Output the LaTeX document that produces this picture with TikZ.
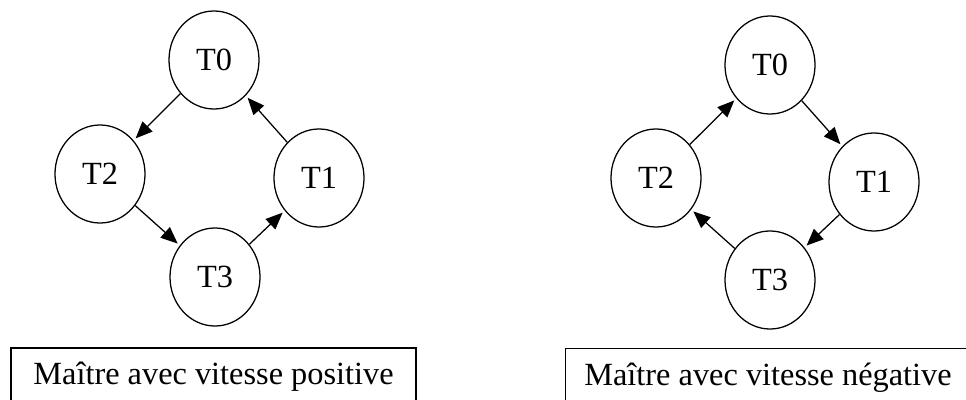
\documentclass[tikz,border=0pt]{standalone}
\usepackage{fontspec}
\setmainfont{Liberation Serif}
\usetikzlibrary{shapes.geometric, arrows.meta, positioning}

\begin{document}
\begin{tikzpicture}[
    x=0.025cm, y=-0.025cm,
    font=\fontsize{23}{27}\selectfont,
    etat/.style={draw, ellipse, line width=0.9pt, minimum width=2.25cm, minimum height=2.45cm, inner sep=0pt},
    legende/.style={draw, rectangle, line width=1pt, minimum width=10.12cm, minimum height=1.45cm, inner sep=0pt},
    fleche/.style={-{Triangle[length=12pt, width=10pt]}, line width=0.9pt, shorten >=2pt},
]
\useasboundingbox (0,0) rectangle (966,400);

% Vitesse positive (gauche)
\node[etat] (p0) at (214,60)  {T0};
\node[etat] (p2) at (100,174) {T2};
\node[etat] (p1) at (319,178) {T1};
\node[etat] (p3) at (215,277) {T3};
\node[legende] (lp) at (213.5,377) {Ma\^{\i}tre avec vitesse positive};

% Vitesse negative (droite)
\node[etat] (n0) at (770,65)  {T0};
\node[etat] (n2) at (656,178) {T2};
\node[etat] (n1) at (874,182) {T1};
\node[etat] (n3) at (770,280) {T3};
\node[legende] (ln) at (768,377.5) {Ma\^{\i}tre avec vitesse n\'egative};

% Transitions
\foreach \a/\b in {p0/p2, p2/p3, p3/p1, p1/p0} \draw[fleche] (\a) -- (\b);
\foreach \a/\b in {n0/n1, n1/n3, n3/n2, n2/n0} \draw[fleche] (\a) -- (\b);
\end{tikzpicture}
\end{document}
